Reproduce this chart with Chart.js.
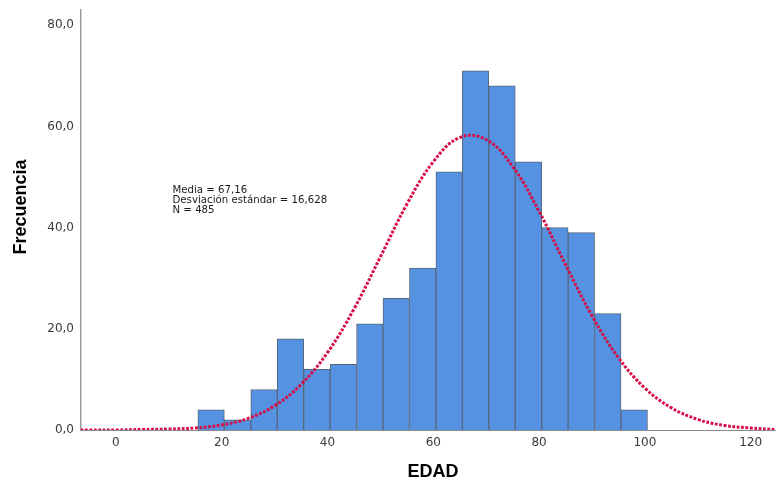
<!DOCTYPE html>
<html>
<head>
<meta charset="utf-8">
<script src="https://cdn.jsdelivr.net/npm/chart.js@4.4.1/dist/chart.umd.min.js"></script>
<style>
  html, body { margin: 0; padding: 0; background: #ffffff; }
  #wrap { width: 776px; height: 482px; position: relative; }
</style>
</head>
<body>
<div id="wrap"><canvas id="c"></canvas></div>
<script>
// ---- data ----
const binCenters   = [18, 23, 28, 33, 38, 43, 48, 53, 58, 63, 68, 73, 78, 83, 88, 93, 98];
const frequencies  = [4, 2, 8, 18, 12, 13, 21, 26, 32, 51, 71, 68, 53, 40, 39, 23, 4];
const curveX       = [-10, -5, 0, 5, 10, 15, 20, 25, 30, 35, 40, 45, 50, 55, 60, 65, 70, 75, 80, 85, 90, 95, 100, 105, 110, 115, 120, 125, 130];
const curveY       = [0, 0, 0, 0.1, 0.2, 0.4, 1.0, 2.3, 4.8, 9.0, 15.3, 23.9, 34.2, 44.6, 53.0, 57.8, 57.4, 52.1, 43.2, 32.7, 22.6, 14.3, 8.3, 4.4, 2.1, 0.9, 0.4, 0.1, 0];
const xTickValues  = [0, 20, 40, 60, 80, 100, 120];
const yTickValues  = [0, 20, 40, 60, 80];
const yTickLabels  = ['0,0', '20,0', '40,0', '60,0', '80,0'];
const statsLines   = ['Media = 67,16', 'Desviación estándar = 16,628', 'N = 485'];
const xTitle = 'EDAD';
const yTitle = 'Frecuencia';

const barData = binCenters.map((x, i) => ({ x: x, y: frequencies[i] }));
const curveData = curveX.map((x, i) => ({ x: x, y: curveY[i] }));

const textPlugin = {
  id: 'textPlugin',
  afterDraw(chart) {
    const ctx = chart.ctx;
    const xs = chart.scales.x, ys = chart.scales.y;
    ctx.save();
    // statistics annotation
    ctx.fillStyle = '#1a1a1a';
    ctx.font = '10.2px "DejaVu Sans"';
    ctx.textAlign = 'left';
    ctx.textBaseline = 'middle';
    const ax = xs.getPixelForValue(10.7);
    const ay = ys.getPixelForValue(47.3);
    statsLines.forEach((t, i) => ctx.fillText(t, ax, ay + i * 10));
    // axis titles
    ctx.fillStyle = '#000000';
    ctx.font = 'bold 18px "Liberation Sans", Arial, sans-serif';
    ctx.textAlign = 'center';
    ctx.textBaseline = 'middle';
    ctx.fillText(xTitle, 433, 472);
    ctx.translate(21, 207);
    ctx.rotate(-Math.PI / 2);
    ctx.fillText(yTitle, 0, 0);
    ctx.restore();
  }
};

new Chart(document.getElementById('c'), {
  type: 'bar',
  data: {
    datasets: [
      {
        type: 'line',
        data: curveData,
        borderColor: '#d80a45',
        borderWidth: 3,
        borderDash: [2.8, 1.6],
        borderCapStyle: 'butt',
        pointRadius: 0,
        tension: 0.4,
        fill: false,
        order: 0
      },
      {
        type: 'bar',
        data: barData,
        backgroundColor: '#5593e2',
        borderColor: '#56677b',
        borderWidth: 1,
        barPercentage: 1.0,
        categoryPercentage: 1.0,
        grouped: false,
        order: 1
      }
    ]
  },
  options: {
    responsive: true,
    maintainAspectRatio: false,
    animation: false,
    layout: { padding: { top: 10, right: 0, left: 0, bottom: 0 } },
    plugins: { legend: { display: false }, tooltip: { enabled: false } },
    scales: {
      x: {
        type: 'linear',
        offset: false,
        min: -6.6,
        max: 124.8,
        grid: { display: false, drawTicks: false },
        border: { display: true, color: '#8a8a8a', width: 1 },
        ticks: {
          color: '#3a3a3a',
          font: { family: '"DejaVu Sans"', size: 12 },
          padding: 6,
          maxRotation: 0,
          autoSkip: false
        },
        afterBuildTicks(scale) { scale.ticks = xTickValues.map(v => ({ value: v })); },
        afterFit(scale) { scale.height = 52; scale.paddingLeft = 0; scale.paddingRight = 0; }
      },
      y: {
        type: 'linear',
        min: 0,
        max: 83,
        grid: { display: false, drawTicks: false },
        border: { display: true, color: '#9a9a9a', width: 1.5 },
        ticks: {
          color: '#3a3a3a',
          font: { family: '"DejaVu Sans"', size: 12 },
          padding: 7,
          autoSkip: false,
          callback: function (v) { const i = yTickValues.indexOf(v); return i >= 0 ? yTickLabels[i] : ''; }
        },
        afterBuildTicks(scale) { scale.ticks = yTickValues.map(v => ({ value: v })); },
        afterFit(scale) { scale.width = 81; scale.paddingTop = 0; scale.paddingBottom = 0; }
      }
    }
  },
  plugins: [textPlugin]
});
</script>
</body>
</html>
